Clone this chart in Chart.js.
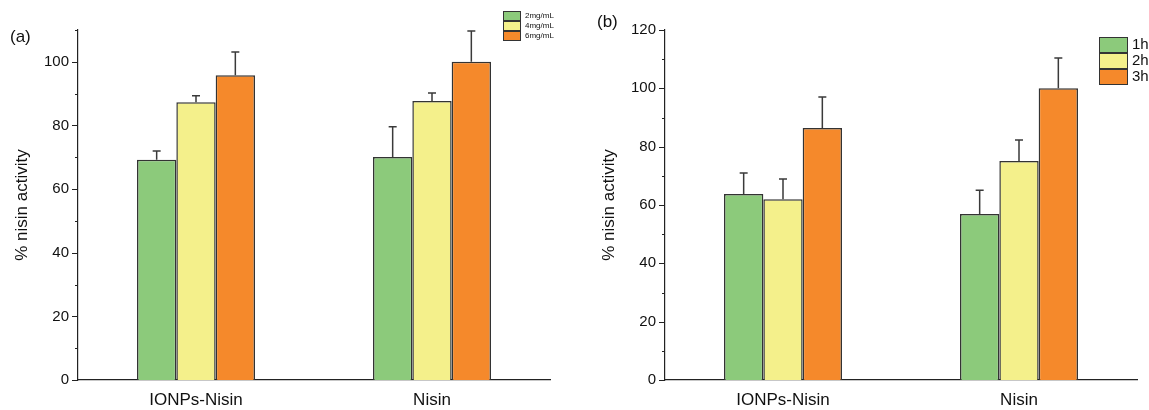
<!DOCTYPE html>
<html lang="en">
<head>
  <meta charset="UTF-8" />
  <title>% nisin activity</title>
  <script src="https://cdn.jsdelivr.net/npm/chart.js"></script>
  <style>
    body { margin: 0; background: #fff; }
    .panel { position: absolute; top: 0; height: 410px; }
    #panelA { left: 0; width: 580px; }
    #panelB { left: 587px; width: 562px; }
    .tag { position: absolute; font: 17px Arial, "Liberation Sans", sans-serif; color: #111; }
  </style>
</head>
<body>
  <div class="panel" id="panelA"><canvas id="chartA"></canvas></div>
  <div class="panel" id="panelB"><canvas id="chartB"></canvas></div>
  <div class="tag" style="left:10px; top:27px;">(a)</div>
  <div class="tag" style="left:597px; top:12px;">(b)</div>

  <script>
    // categories and series
    const categories = ['IONPs-Nisin', 'Nisin'];

    // (a) concentration
    const concLabels = ['2mg/mL', '4mg/mL', '6mg/mL'];
    const conc2 = [69.2, 70.1];
    const conc4 = [87.3, 87.7];
    const conc6 = [95.8, 100.0];
    const conc2Err = [2.8, 9.5];
    const conc4Err = [2.0, 2.5];
    const conc6Err = [7.3, 9.7];

    // (b) time
    const timeLabels = ['1h', '2h', '3h'];
    const h1 = [63.8, 56.9];
    const h2 = [62.0, 75.1];
    const h3 = [86.4, 100.0];
    const h1Err = [7.2, 8.2];
    const h2Err = [6.9, 7.2];
    const h3Err = [10.6, 10.4];

    const yTicksA = [0, 20, 40, 60, 80, 100];
    const yTicksB = [0, 20, 40, 60, 80, 100, 120];

    const colors = ['#8cca7b', '#f4f08b', '#f5892b'];
    const FONT = 'Arial, "Liberation Sans", sans-serif';
    const INK = '#333';

    // error bars (upper only) + y ticks with minors + legend
    const extras = {
      id: 'extras',
      afterDatasetsDraw(chart, args, opts) {
        const ctx = chart.ctx;
        const y = chart.scales.y;
        ctx.save();
        ctx.strokeStyle = '#3a3a3a';
        ctx.lineWidth = 1.5;
        chart.data.datasets.forEach((ds, i) => {
          const meta = chart.getDatasetMeta(i);
          meta.data.forEach((bar, j) => {
            const top = y.getPixelForValue(ds.data[j] + ds.err[j]);
            ctx.beginPath();
            ctx.moveTo(bar.x, bar.y);
            ctx.lineTo(bar.x, top);
            ctx.moveTo(bar.x - 4, top);
            ctx.lineTo(bar.x + 4, top);
            ctx.stroke();
          });
        });

        // y tick marks
        ctx.strokeStyle = '#222';
        ctx.lineWidth = 1;
        const x0 = chart.chartArea.left;
        for (let v = 0; v <= y.max; v += 10) {
          const py = Math.round(y.getPixelForValue(v)) + 0.5;
          const len = v % 20 === 0 ? 6 : 3;
          ctx.beginPath();
          ctx.moveTo(x0 - len, py);
          ctx.lineTo(x0, py);
          ctx.stroke();
        }

        // legend
        const L = opts;
        ctx.font = L.size + 'px ' + FONT;
        ctx.textBaseline = 'middle';
        chart.data.datasets.forEach((ds, i) => {
          const by = L.y + i * L.h;
          ctx.fillStyle = ds.backgroundColor;
          ctx.fillRect(L.x, by, L.w, L.h - 1);
          ctx.strokeStyle = INK;
          ctx.lineWidth = 1;
          ctx.strokeRect(L.x + 0.5, by + 0.5, L.w, L.h - 1);
          ctx.fillStyle = '#111';
          ctx.fillText(ds.label, L.x + L.w + 5, by + L.h / 2);
        });
        ctx.restore();
      }
    };

    function makeChart(id, labels, series, errs, ymax, ticks, legend, padRight) {
      return new Chart(document.getElementById(id), {
        type: 'bar',
        data: {
          labels: categories,
          datasets: series.map((d, i) => ({
            label: labels[i],
            data: d,
            err: errs[i],
            backgroundColor: colors[i],
            borderColor: INK,
            borderWidth: 1.5,
            barPercentage: 1,
            categoryPercentage: 0.5
          }))
        },
        options: {
          responsive: true,
          maintainAspectRatio: false,
          animation: false,
          layout: { padding: { top: 30, right: padRight, left: 0, bottom: 0 } },
          plugins: {
            legend: { display: false },
            tooltip: { enabled: false },
            extras: legend
          },
          scales: {
            x: {
              grid: { display: false, drawTicks: false },
              border: { color: '#222', width: 1.2 },
              ticks: { color: '#111', font: { family: FONT, size: 17 }, padding: 10 },
              afterFit: s => { s.height = 30; }
            },
            y: {
              min: 0,
              max: ymax,
              afterBuildTicks: s => { s.ticks = ticks.map(v => ({ value: v })); },
              grid: { display: false, drawTicks: false },
              border: { color: '#222', width: 1.2 },
              ticks: { color: '#111', font: { family: FONT, size: 15 }, padding: 9 },
              title: {
                display: true,
                text: '% nisin activity',
                color: '#111',
                font: { family: FONT, size: 17 },
                padding: { top: 12, bottom: 4 }
              },
              afterFit: s => { s.width = 78; }
            }
          }
        },
        plugins: [extras]
      });
    }

    makeChart('chartA', concLabels, [conc2, conc4, conc6], [conc2Err, conc4Err, conc6Err],
      110, yTicksA, { x: 503, y: 11, w: 17, h: 10, size: 8 }, 30);
    makeChart('chartB', timeLabels, [h1, h2, h3], [h1Err, h2Err, h3Err],
      120, yTicksB, { x: 512, y: 37, w: 28, h: 16, size: 15 }, 12);
  </script>
</body>
</html>
